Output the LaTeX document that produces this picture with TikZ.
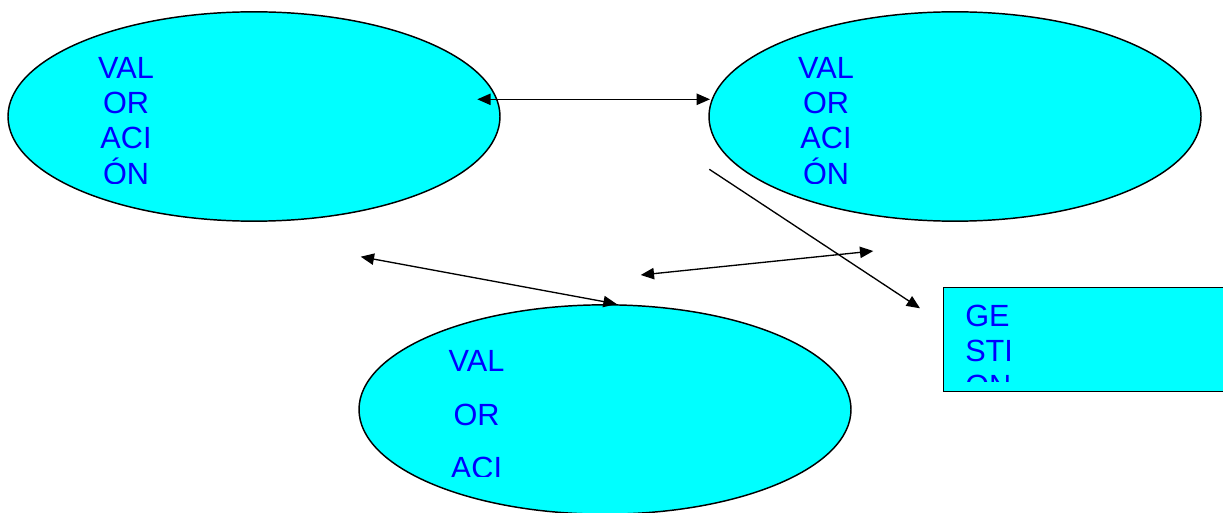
\documentclass[tikz,border=0pt]{standalone}
\usepackage{fontspec}
\setmainfont{Liberation Sans}
\usepackage{tikz}
\usetikzlibrary{shapes,arrows.meta}
\definecolor{celeste}{rgb}{0, 1, 1}
\definecolor{azul}{rgb}{0, 0, 1}
\tikzstyle{elipse}=[ellipse,draw=black,line width=1.1pt,fill=celeste,minimum width=369pt,minimum height=157pt,inner sep=0pt]
\tikzstyle{caja}=[rectangle,draw=black,line width=1.1pt,fill=celeste,anchor=north west,minimum width=216pt,minimum height=78pt,inner sep=0pt]
\tikzstyle{texto}=[text=azul,font=\fontsize{23}{26}\selectfont,inner sep=0pt,anchor=base]
\tikzstyle{flecha}=[line width=1pt,{Triangle[length=10pt,width=8.5pt]}-{Triangle[length=10pt,width=8.5pt]}]
\tikzstyle{punta}=[line width=1pt,-{Triangle[length=10pt,width=8.5pt]}]

\begin{document}
\begin{tikzpicture}[x=0.75pt,y=-0.75pt]
\useasboundingbox (0,0) rectangle (1223,513);

\node[elipse] (val1) at (254,116.5) {};
\node[elipse] (val2) at (955,116.5) {};
\node[elipse] (val3) at (605,409.5) {};
\node[caja] (gest) at (943,287) {};

\begin{scope}
\clip (0,0) rectangle (1223,183.3);
\foreach \t [count=\i] in {VAL,OR,ACI,ÓN} {
  \node[texto] (t1-\i) at (126,{78.3+35.3*(\i-1)}) {\t};
  \node[texto] (t2-\i) at (826,{78.3+35.3*(\i-1)}) {\t};
}
\end{scope}

\begin{scope}
\clip (0,0) rectangle (1223,476.7);
\foreach \t [count=\i] in {VAL,OR,ACI} {
  \node[texto] (t3-\i) at (476.5,{371.7+53.3*(\i-1)}) {\t};
}
\end{scope}

\begin{scope}
\clip (0,0) rectangle (1223,381.7);
\foreach \t [count=\i] in {GE,STI,ON} {
  \node[texto,anchor=base west] (t4-\i) at (965,{326.3+35.3*(\i-1)}) {\t};
}
\end{scope}

% flechas
\coordinate (a1) at (477.3,99.3);
\coordinate (a2) at (710,99.3);
\coordinate (b1) at (360.7,256.7);
\coordinate (b2) at (616.7,304);
\coordinate (c1) at (640.7,275);
\coordinate (c2) at (873.3,251);
\coordinate (d1) at (709.3,169.3);
\coordinate (d2) at (920,308.3);

\draw[flecha] (a1) -- (a2);
\draw[flecha] (b1) -- (b2);
\draw[flecha] (c1) -- (c2);
\draw[punta] (d1) -- (d2);

\end{tikzpicture}
\end{document}
